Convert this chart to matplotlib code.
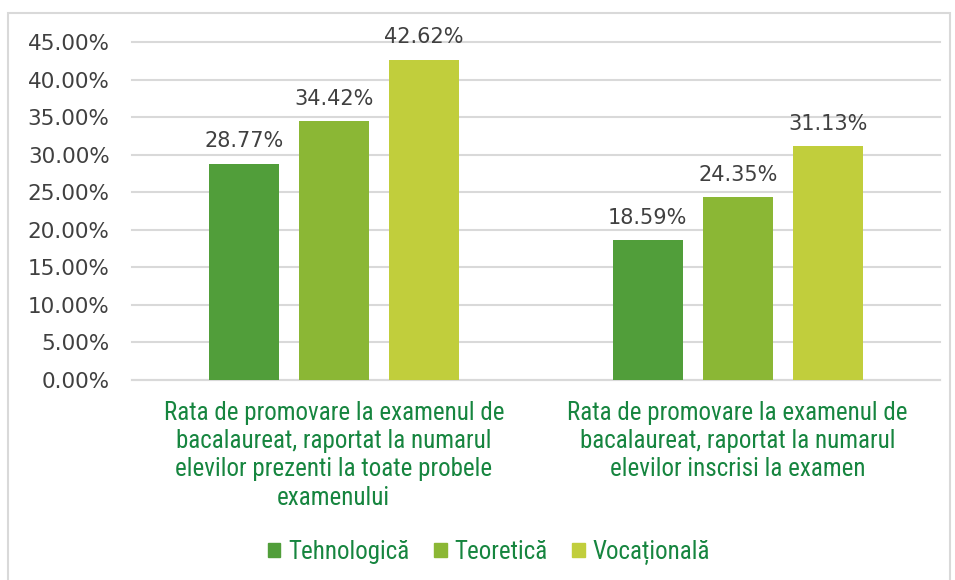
import matplotlib.pyplot as plt
import matplotlib.patches as mpatches
import numpy as np

# Data
categories = [
    'Rata de promovare la examenul de\nbacalaureat, raportat la numarul\nelevilor prezenti la toate probele\nexamenului',
    'Rata de promovare la examenul de\nbacalaureat, raportat la numarul\nelevilor inscrisi la examen',
]
series_names = ['Tehnologică', 'Teoretică', 'Vocațională']
tehnologica = [28.77, 18.59]
teoretica = [34.42, 24.35]
vocationala = [42.62, 31.13]
y_ticks = [0, 5, 10, 15, 20, 25, 30, 35, 40, 45]

colors = ['#519E3A', '#8BB735', '#C1CE3C']
label_green = '#16853F'
text_gray = '#404040'
narrow = ['Roboto Condensed', 'DejaVu Sans']
plain = ['DejaVu Sans']

fig = plt.figure(figsize=(9.55, 5.8), dpi=100)
ax = fig.add_axes([0.138, 0.345, 0.846, 0.5826])

# outer chart border
fig.patches.append(mpatches.Rectangle((8 / 955, -0.01), 942 / 955, 1 - 13 / 580 + 0.01,
                                      transform=fig.transFigure, fill=False,
                                      edgecolor='#D9D9D9', linewidth=1.5))

x = np.arange(len(categories))
width = 0.173
step = 0.223
for i, (vals, name) in enumerate(zip([tehnologica, teoretica, vocationala], series_names)):
    pos = x + (i - 1) * step
    bars = ax.bar(pos, vals, width, color=colors[i], label=name, zorder=3)
    for b, v in zip(bars, vals):
        ax.annotate(f'{v:.2f}%', (b.get_x() + b.get_width() / 2, v),
                    xytext=(0, 9), textcoords='offset points',
                    ha='center', va='bottom', fontsize=15, color=text_gray,
                    family=plain)

ax.set_xlim(-0.5, 1.5)
ax.set_ylim(0, 45)
ax.set_yticks(y_ticks)
ax.set_yticklabels([f'{t:.2f}%' for t in y_ticks], fontsize=15.5, color=text_gray,
                   family=plain)
ax.set_xticks(x)
ax.set_xticklabels(categories, fontsize=18, color=label_green,
                   family=narrow, linespacing=1.23)
ax.tick_params(axis='both', length=0)
ax.tick_params(axis='x', pad=15)
ax.tick_params(axis='y', pad=16)

ax.grid(axis='y', color='#D9D9D9', linewidth=1.5, zorder=0)
for gl in ax.get_ygridlines():
    gl.set_clip_on(False)
for s in ['top', 'right', 'left']:
    ax.spines[s].set_visible(False)
ax.spines['bottom'].set_color('#D9D9D9')
ax.spines['bottom'].set_linewidth(1.5)

handles = [mpatches.Patch(color=c, label=n) for c, n in zip(colors, series_names)]
leg = fig.legend(handles=handles, loc='center', bbox_to_anchor=(0.512, 0.048), ncol=3,
                 frameon=False, handlelength=0.5, handleheight=0.5, handletextpad=0.3,
                 columnspacing=1.0,
                 prop={'family': narrow, 'size': 18})
for t in leg.get_texts():
    t.set_color(label_green)

fig.savefig('out.png', dpi=100)
